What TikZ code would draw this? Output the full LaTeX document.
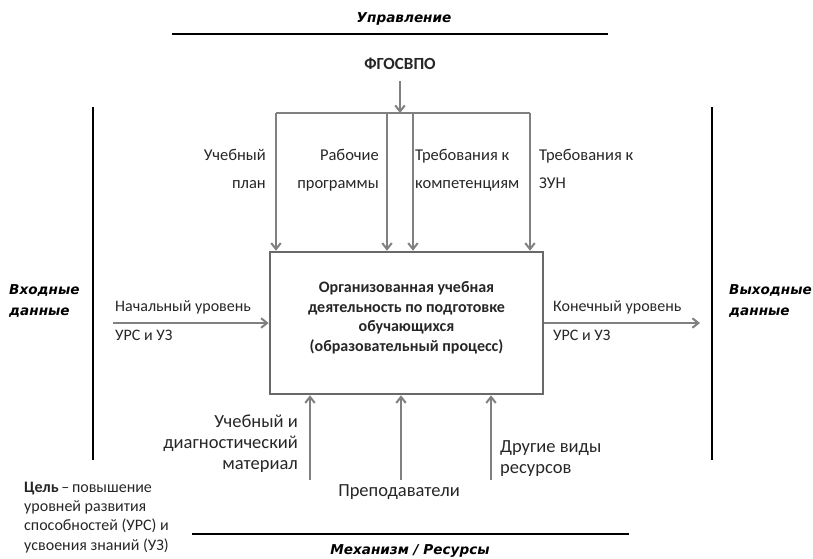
\documentclass[tikz,border=0pt]{standalone}
\usepackage{fontspec}
\setmainfont{Carlito}
\newfontfamily\headfont{DejaVu Sans}
\usetikzlibrary{arrows.meta}
\definecolor{flowgray}{RGB}{128,128,128}
\definecolor{boxgray}{RGB}{105,105,105}
\definecolor{ink}{RGB}{38,38,38}
\tikzset{
  lbl/.style={font=\fontsize{16.5}{28}\selectfont, text=ink, inner sep=0pt},
  lblio/.style={font=\fontsize{16}{28}\selectfont, text=ink, inner sep=0pt},
  lblr/.style={font=\fontsize{18.5}{20.7}\selectfont, text=ink, inner sep=0pt},
  head/.style={font=\fontsize{13.6}{21}\selectfont\headfont\bfseries\itshape, text=black, inner sep=0pt},
  rule/.style={draw=black, line width=2pt},
  flow/.style={draw=flowgray, line width=2.2pt, -{Straight Barb[length=6pt,width=9.5pt,line width=2pt]}},
  plain/.style={draw=flowgray, line width=2.2pt},
  procbox/.style={draw=boxgray, line width=2.6pt, minimum width=273pt, minimum height=142pt, inner sep=0pt},
}
\begin{document}
\begin{tikzpicture}[x=1pt, y=-1pt]
\useasboundingbox (0,0) rectangle (813,558);

% control section
\node[head, anchor=base] (ctrl) at (404,22) {Управление};
\draw[rule] (172,34) coordinate (ctrlL) -- (608,34) coordinate (ctrlR);
\node[font=\fontsize{17}{28}\selectfont\bfseries, text=ink, inner sep=0pt, anchor=base] (fgos) at (400,69) {ФГОСВПО};
\coordinate (fork) at (400,113);
\coordinate (c1) at (276,113);
\coordinate (c2) at (387,113);
\coordinate (c3) at (413,113);
\coordinate (c4) at (530,113);

% the process
\node[procbox] (proc) at (406.5,323) {};
\node[font=\fontsize{16}{19.5}\selectfont\bfseries, text=ink, align=center, inner sep=0pt, anchor=base] (proctext) at (406.5,351)
  {Организованная учебная\\деятельность по подготовке\\обучающихся\\(образовательный процесс)};

\draw[flow] (fgos.south) ++(0,12) -- (fork);
\draw[plain] (c1) -- (c4);
\draw[flow] (c1) -- (c1 |- proc.north);
\draw[flow] (c2) -- (c2 |- proc.north);
\draw[flow] (c3) -- (c3 |- proc.north);
\draw[flow] (c4) -- (c4 |- proc.north);

\node[lbl, align=right, anchor=base east] (plan) at (266,188) {Учебный\\план};
\node[lbl, align=right, anchor=base east] (progs) at (379,188) {Рабочие\\программы};
\node[lbl, align=left, anchor=base west] (comp) at (415,188) {Требования к\\компетенциям};
\node[lbl, align=left, anchor=base west] (zun) at (539,188) {Требования к\\ЗУН};

% inputs and outputs
\draw[rule] (93,107) coordinate (inTop) -- (93,460) coordinate (inBot);
\draw[rule] (712,107) coordinate (outTop) -- (712,460) coordinate (outBot);
\node[head, align=left, anchor=base west] (inhead) at (9,315) {Входные\\данные};
\node[head, align=left, anchor=base west] (outhead) at (729,315) {Выходные\\данные};

\coordinate (inStart) at (113,323);
\coordinate (outEnd) at (700,323);
\draw[flow] (inStart) -- (inStart -| proc.west);
\draw[flow] (inStart -| proc.east) -- (outEnd);
\node[lblio, anchor=base west] (inA) at (115,311) {Начальный уровень};
\node[lblio, anchor=base west] (inB) at (115,340) {УРС и УЗ};
\node[lblio, anchor=base west] (outA) at (553,311) {Конечный уровень};
\node[lblio, anchor=base west] (outB) at (553,340) {УРС и УЗ};

% mechanisms
\coordinate (m1) at (310,480);
\coordinate (m2) at (401,480);
\coordinate (m3) at (491,480);
\draw[flow] (m1) -- (m1 |- proc.south);
\draw[flow] (m2) -- (m2 |- proc.south);
\draw[flow] (m3) -- (m3 |- proc.south);
\node[lblr, align=right, anchor=base east] (mat) at (298,469) {Учебный и\\диагностический\\материал};
\node[lblr, anchor=base] (teach) at (399,496) {Преподаватели};
\node[lblr, align=left, anchor=base west] (other) at (500,473) {Другие виды\\ресурсов};

\draw[rule] (192,534) coordinate (mechL) -- (629,534) coordinate (mechR);
\node[head, anchor=base] (mech) at (410,554) {Механизм / Ресурсы};

% goal
\node[font=\fontsize{16}{19.3}\selectfont, text=ink, align=left, anchor=base west, inner sep=0pt] (goal) at (24,550)
  {\textbf{Цель}\,–\,повышение\\уровней развития\\способностей (УРС) и\\усвоения знаний (УЗ)};
\end{tikzpicture}
\end{document}
